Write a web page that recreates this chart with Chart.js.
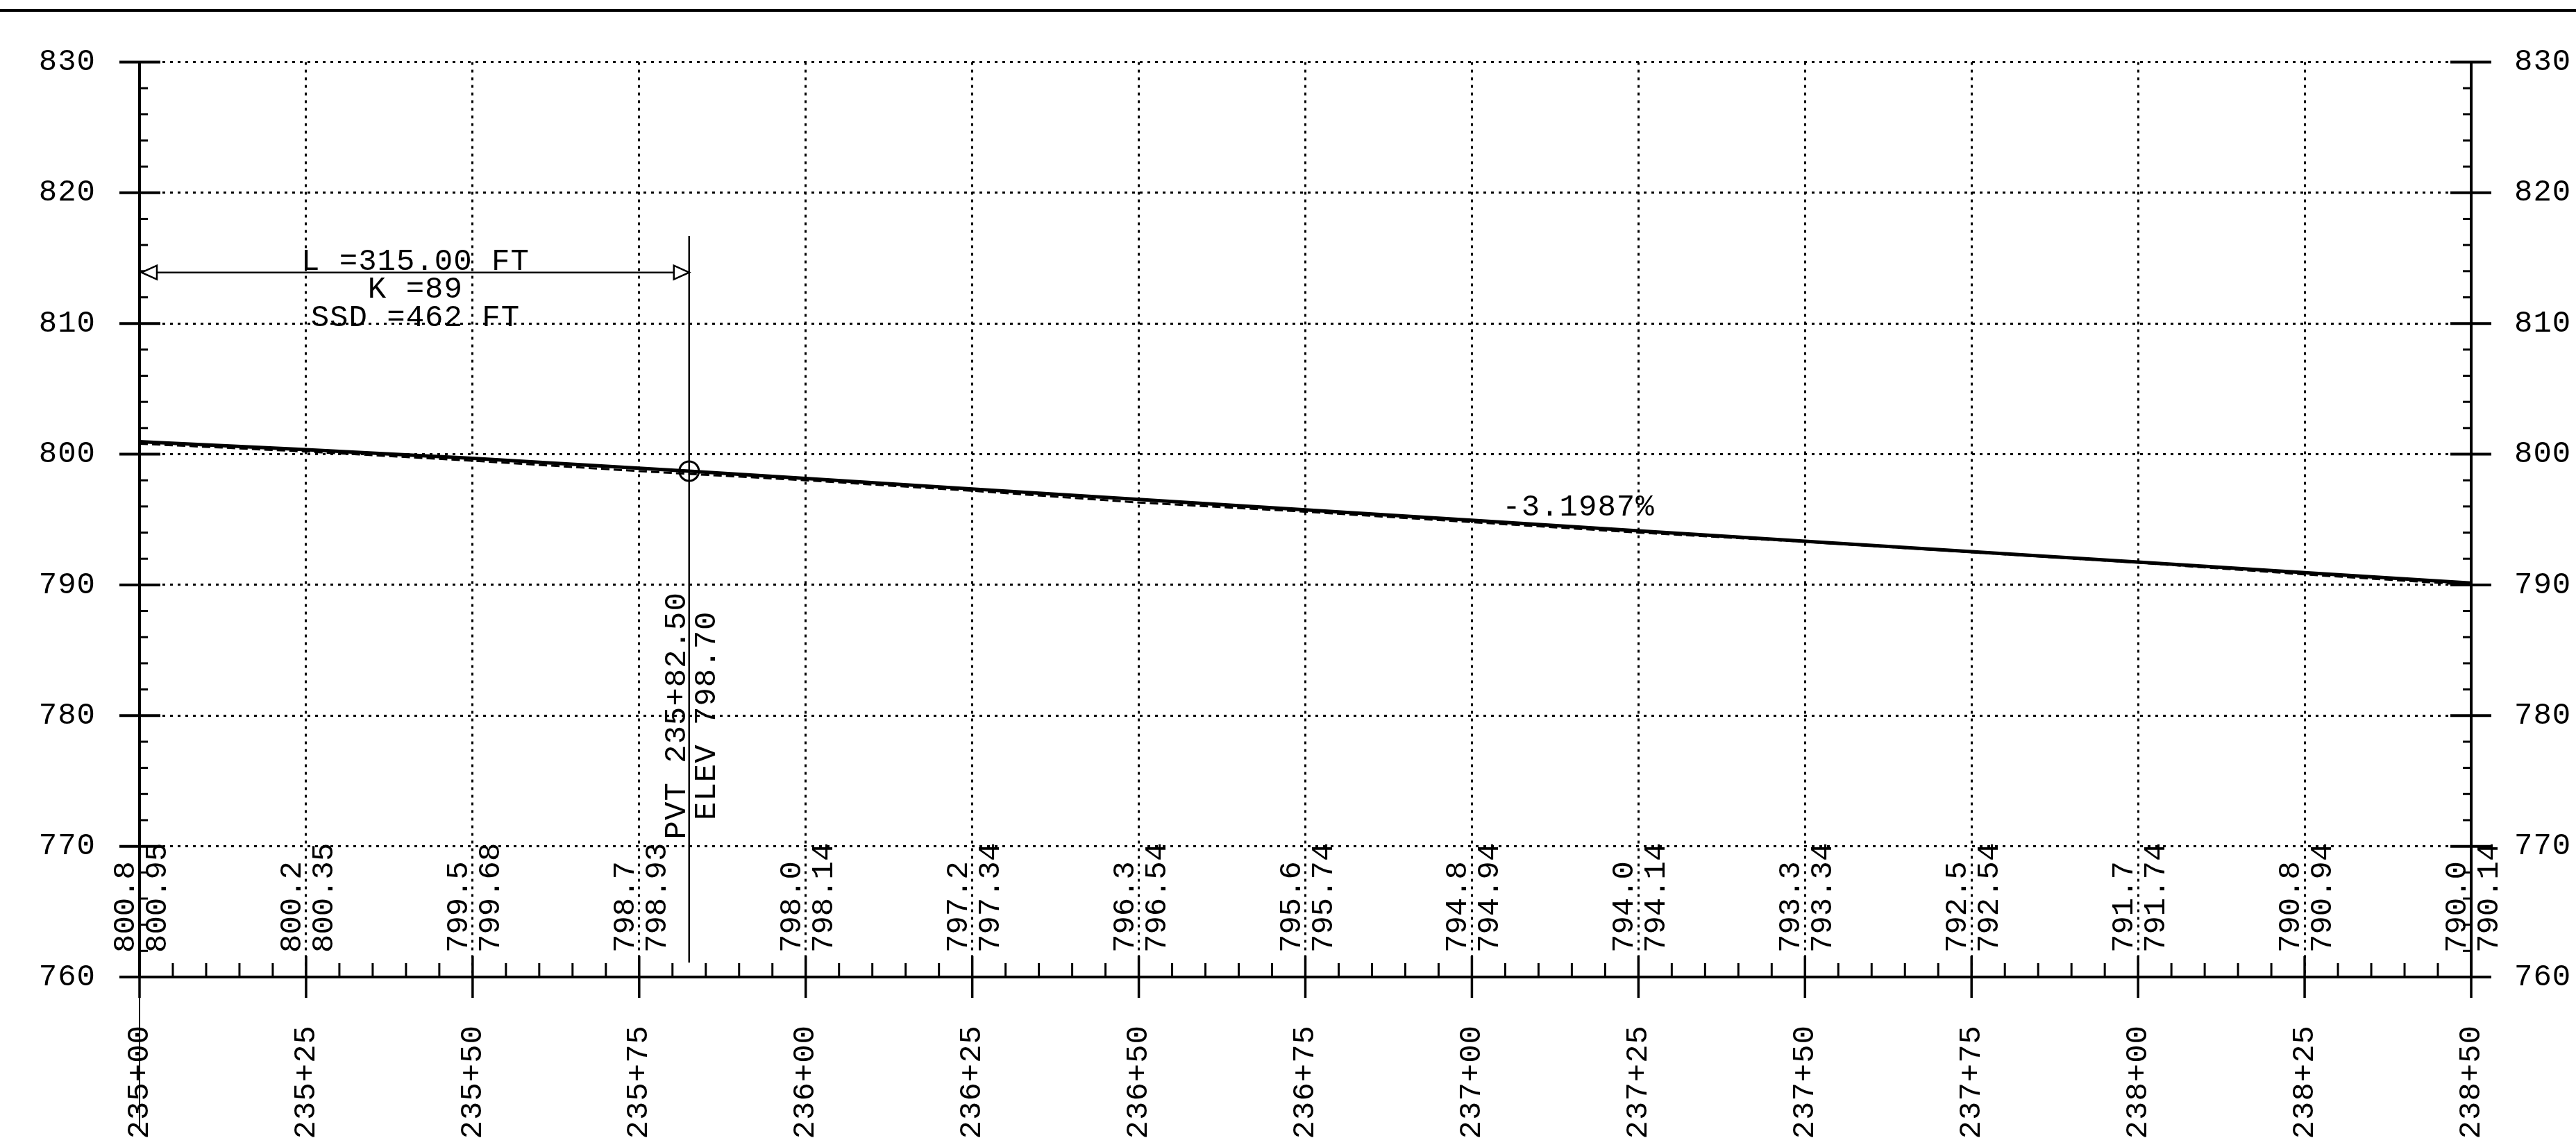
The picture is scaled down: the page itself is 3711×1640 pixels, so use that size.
<!DOCTYPE html>
<html>
<head>
<meta charset="utf-8">
<script src="https://cdn.jsdelivr.net/npm/chart.js@4.4.0/dist/chart.umd.min.js"></script>
<style>
  html, body { margin: 0; padding: 0; background: #fff; }
</style>
</head>
<body>
<canvas id="profileChart" width="3711" height="1640"></canvas>
<script>
// stations in feet (235+00 = 23500)
const stations = [23500, 23525, 23550, 23575, 23600, 23625, 23650, 23675, 23700, 23725, 23750, 23775, 23800, 23825, 23850];
const existingElev = [800.8, 800.2, 799.5, 798.7, 798.0, 797.2, 796.3, 795.6, 794.8, 794.0, 793.3, 792.5, 791.7, 790.8, 790.0];
const proposedElev = [800.95, 800.35, 799.68, 798.93, 798.14, 797.34, 796.54, 795.74, 794.94, 794.14, 793.34, 792.54, 791.74, 790.94, 790.14];
const elevMin = 760;
const elevMax = 830;
const pvtStation = 23582.5;
const pvtElev = 798.70;
const curveNotes = ['L =315.00 FT', 'K =89', 'SSD =462 FT'];
const gradeText = '-3.1987%';

const FONT = "'Liberation Mono', 'DejaVu Sans Mono', monospace";
const PLOT_TOP = 62;

function fmtStation(v, dec = 0) {
  const hundreds = Math.floor(v / 100);
  const rest = (v - hundreds * 100).toFixed(dec);
  return hundreds + '+' + rest.padStart(dec ? 3 + dec : 2, '0');
}

const proposedPts = stations.map((s, i) => ({ x: s, y: proposedElev[i] }));
proposedPts.push({ x: pvtStation, y: pvtElev });
proposedPts.sort((a, b) => a.x - b.x);
const existingPts = stations.map((s, i) => ({ x: s, y: existingElev[i] }));

// axes frame, tick marks and drawing notes
const profileFrame = {
  id: 'profileFrame',
  beforeDraw(chart) {
    chart.ctx.letterSpacing = '1px';
  },
  afterDatasetsDraw(chart) {
    const { ctx, chartArea: a, scales: { x, y } } = chart;
    const px = v => x.getPixelForValue(v);
    const py = v => y.getPixelForValue(v);
    const seg = (x1, y1, x2, y2) => {
      ctx.beginPath(); ctx.moveTo(x1, y1); ctx.lineTo(x2, y2); ctx.stroke();
    };
    const vText = (text, bx, by, align) => {
      ctx.save();
      ctx.translate(bx, by);
      ctx.rotate(-Math.PI / 2);
      ctx.textAlign = align;
      ctx.textBaseline = 'alphabetic';
      ctx.fillText(text, 0, 0);
      ctx.restore();
    };
    const arrowhead = (tipX, tipY, dir) => {
      ctx.beginPath();
      ctx.moveTo(tipX, tipY);
      ctx.lineTo(tipX + dir * 22, tipY - 10);
      ctx.lineTo(tipX + dir * 22, tipY + 10);
      ctx.closePath();
      ctx.fillStyle = '#fff';
      ctx.fill();
      ctx.stroke();
      ctx.fillStyle = '#000';
    };

    ctx.save();
    ctx.strokeStyle = '#000';
    ctx.fillStyle = '#000';
    ctx.setLineDash([]);

    // sheet line at the top
    ctx.lineWidth = 4;
    seg(0, 15, chart.width, 15);

    // frame
    seg(a.left, a.top, a.left, a.bottom);
    seg(a.right, a.top, a.right, a.bottom);
    seg(a.left - 29, a.bottom, a.right + 29, a.bottom);

    // elevation ticks
    for (let v = y.min; v <= y.max; v += 2) {
      const yy = py(v);
      if (v % 10 === 0) {
        ctx.lineWidth = 4;
        seg(a.left - 29, yy, a.left + 30, yy);
        seg(a.right - 30, yy, a.right + 29, yy);
      } else {
        ctx.lineWidth = 3;
        seg(a.left, yy, a.left + 12, yy);
        seg(a.right - 12, yy, a.right, yy);
      }
    }
    // station ticks
    for (let s = x.min; s <= x.max; s += 5) {
      const xx = px(s);
      if ((s - x.min) % 25 === 0) {
        ctx.lineWidth = 3.5;
        seg(xx, a.bottom - 30, xx, a.bottom + 30);
      } else {
        ctx.lineWidth = 3;
        seg(xx, a.bottom - 20, xx, a.bottom);
      }
    }
    ctx.lineWidth = 2;
    seg(a.left, a.bottom, a.left, chart.height - 10);

    // elevations along the bottom
    ctx.font = '44px ' + FONT;
    ctx.letterSpacing = '0px';
    stations.forEach((s, i) => {
      const xx = px(s);
      vText(existingElev[i].toFixed(1), xx - 8, a.bottom - 35, 'left');
      vText(proposedElev[i].toFixed(2), xx + 38, a.bottom - 35, 'left');
    });
    ctx.letterSpacing = '1px';

    // curve length dimension
    const dimY = py(813.9);
    const xL = a.left + 3;
    const xR = px(pvtStation);
    ctx.lineWidth = 2.5;
    seg(xL, dimY, xR, dimY);
    arrowhead(xL, dimY, 1);
    arrowhead(xR, dimY, -1);

    ctx.textAlign = 'center';
    ctx.textBaseline = 'alphabetic';
    const midX = (xL + xR) / 2;
    ctx.fillText(curveNotes[0], midX, dimY - 4);
    ctx.fillText(curveNotes[1], midX, dimY + 36);
    ctx.fillText(curveNotes[2], midX, dimY + 77);

    // PVT notes
    vText('PVT ' + fmtStation(pvtStation, 2), xR - 6, py(780), 'center');
    vText('ELEV ' + pvtElev.toFixed(2), xR + 37, py(780), 'center');

    // grade
    ctx.textAlign = 'center';
    ctx.fillText(gradeText, px(23716), py(795.3));

    ctx.restore();
  }
};

const ctx = document.getElementById('profileChart').getContext('2d');
Chart.defaults.color = '#000';
Chart.defaults.font.family = FONT;
Chart.defaults.font.size = 44;

const chart = new Chart(ctx, {
  type: 'scatter',
  data: {
    datasets: [
      {
        label: 'Proposed profile',
        data: proposedPts,
        showLine: true,
        borderColor: '#000',
        borderWidth: 5,
        pointRadius: 0
      },
      {
        label: 'Existing ground',
        data: existingPts,
        showLine: true,
        borderColor: '#000',
        borderWidth: 3,
        borderDash: [12, 6],
        pointRadius: 0
      },
      {
        label: 'PVT',
        data: [{ x: pvtStation, y: pvtElev }],
        pointRadius: 14,
        pointStyle: 'circle',
        borderColor: '#000',
        borderWidth: 3,
        backgroundColor: 'rgba(0,0,0,0)'
      },
      {
        label: 'PVT line',
        data: [{ x: pvtStation, y: 816.7 }, { x: pvtStation, y: 761.1 }],
        showLine: true,
        borderColor: '#000',
        borderWidth: 2.5,
        pointRadius: 0
      }
    ]
  },
  options: {
    responsive: false,
    devicePixelRatio: 1,
    animation: false,
    layout: { padding: { top: PLOT_TOP, left: 0, right: 0, bottom: 0 }, autoPadding: false },
    plugins: { legend: { display: false }, tooltip: { enabled: false } },
    scales: {
      x: {
        type: 'linear',
        position: 'bottom',
        min: 23500,
        max: 23850,
        afterFit: s => { s.height = 232; },
        ticks: {
          stepSize: 25,
          maxTicksLimit: 30,
          autoSkip: false,
          minRotation: 90,
          maxRotation: 90,
          padding: 69,
          callback: v => fmtStation(v)
        },
        grid: { color: '#000', lineWidth: 3, drawTicks: false },
        border: { display: false, dash: [4, 7] }
      },
      y: {
        type: 'linear',
        position: 'left',
        min: elevMin,
        max: elevMax,
        afterFit: s => { s.width = 201; },
        ticks: { stepSize: 10, padding: 63 },
        grid: { color: '#000', lineWidth: 3, drawTicks: false },
        border: { display: false, dash: [4, 7] }
      },
      y2: {
        type: 'linear',
        position: 'right',
        min: elevMin,
        max: elevMax,
        afterFit: s => { s.width = 151; },
        ticks: { stepSize: 10, padding: 62 },
        grid: { display: false, drawTicks: false },
        border: { display: false }
      }
    }
  },
  plugins: [profileFrame]
});

// the layout may add label overflow on top of the padding; pin the 830 line
const shift = chart.chartArea.top - PLOT_TOP;
if (Math.abs(shift) > 0.5) {
  chart.config.options.layout.padding.top = PLOT_TOP - shift;
  chart.update();
}
</script>
</body>
</html>
